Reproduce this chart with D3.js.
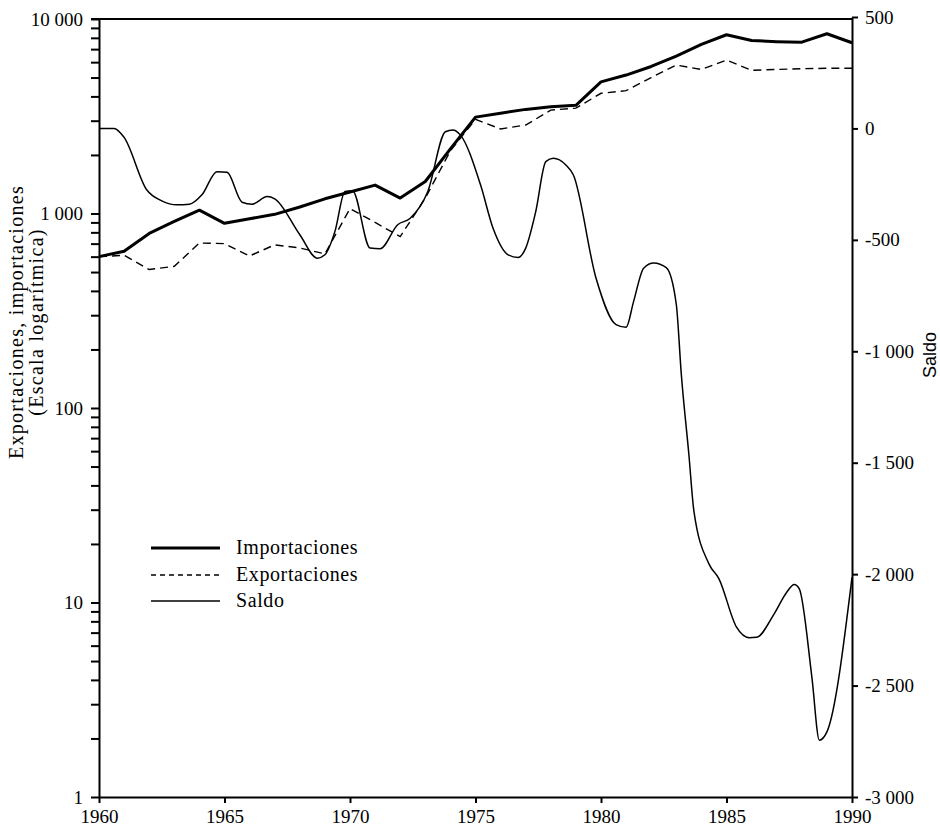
<!DOCTYPE html>
<html>
<head>
<meta charset="utf-8">
<script src="https://cdn.jsdelivr.net/npm/d3@7"></script>
<style>
  body { margin: 0; background: #fff; }
  svg { display: block; }
  .axis text { font-family: "Liberation Serif", serif; font-size: 19px; fill: #000; }
  .axis path, .axis line { stroke: #000; stroke-width: 2; }
</style>
</head>
<body>
<div id="chart"></div>
<script>

// Años (eje X)
var years = [1960, 1961, 1962, 1963, 1964, 1965, 1966, 1967, 1968, 1969,
             1970, 1971, 1972, 1973, 1974, 1975, 1976, 1977, 1978, 1979,
             1980, 1981, 1982, 1983, 1984, 1985, 1986, 1987, 1988, 1989, 1990];

var importaciones = [600, 640, 790, 910, 1040, 890, 940, 990, 1080, 1190,
                     1290, 1400, 1200, 1460, 2150, 3130, 3280, 3430, 3540, 3600,
                     4750, 5150, 5700, 6450, 7400, 8300, 7750, 7650, 7600, 8400, 7550];

var exportaciones = [600, 610, 515, 535, 705, 700, 605, 690, 665, 620,
                     1060, 900, 760, 1200, 2100, 3050, 2720, 2850, 3400, 3480,
                     4150, 4280, 5000, 5800, 5500, 6150, 5450, 5500, 5550, 5580, 5580];

// Saldo: puntos (año, valor)
var saldoYears = [1960.0, 1960.6, 1961.0, 1961.9, 1962.5, 1963.1, 1963.6, 1964.1, 1964.7, 1965.1,
                  1965.7, 1966.1, 1966.7, 1967.0, 1968.0, 1968.7, 1969.0, 1969.4, 1969.8, 1970.1,
                  1970.8, 1971.2, 1971.9, 1972.4, 1973.1, 1973.8, 1974.1, 1974.4, 1975.2, 1975.7,
                  1976.3, 1976.7, 1977.0, 1977.4, 1977.8, 1978.1, 1978.6, 1978.9, 1979.8, 1980.6,
                  1981.0, 1981.3, 1981.7, 1982.1, 1982.6, 1983.0, 1983.2, 1983.5, 1983.7, 1984.3,
                  1984.7, 1985.4, 1985.9, 1986.2, 1986.9, 1987.4, 1987.7, 1987.9, 1988.4, 1988.7,
                  1989.0, 1990.0];
var saldoValues = [0, 0, -40, -275, -325, -343, -340, -298, -194, -197,
                   -331, -340, -306, -316, -477, -582, -567, -462, -283, -280,
                   -537, -540, -432, -403, -283, -15, -7, -30, -253, -448,
                   -567, -579, -537, -373, -149, -134, -164, -209, -671, -880,
                   -892, -776, -627, -604, -625, -790, -1104, -1462, -1716, -1954,
                   -2021, -2238, -2285, -2283, -2178, -2081, -2047, -2066, -2461, -2745,
                   -2708, -2014];

var logTicks = [1, 10, 100, 1000, 10000];
var saldoTicks = [500, 0, -500, -1000, -1500, -2000, -2500, -3000];
var yearTicks = [1960, 1965, 1970, 1975, 1980, 1985, 1990];

var legendItems = [
    {label: "Importaciones", width: 3, dash: null},
    {label: "Exportaciones", width: 1.4, dash: "5,4"},
    {label: "Saldo", width: 1.5, dash: null}
];

var chart = {
    width: 940,
    height: 827,
    left: 99,
    right: 852,
    top: 19,
    bottom: 797
};

var svg = d3.select("#chart").append("svg")
    .attr("width", chart.width)
    .attr("height", chart.height);

var x = d3.scaleLinear().domain([1960, 1990]).range([chart.left, chart.right]);
var yLog = d3.scaleLog().domain([1, 10000]).range([chart.bottom, chart.top]);
var ySaldo = d3.scaleLinear().domain([-3000, 500]).range([chart.bottom, 17]);

function spaced(d) {
    var s = d3.format(",")(Math.abs(d)).replace(",", " ");
    return (d < 0 ? "-" : "") + s;
}

function serifAxis(g) {
    g.attr("font-family", "'Liberation Serif', serif").attr("font-size", 19);
}

// minor ticks del eje log
var minor = [];
logTicks.slice(0, -1).forEach(function(dec) {
    for (var k = 2; k < 10; k++) minor.push(dec * k);
});

svg.append("g")
    .attr("class", "axis")
    .attr("transform", "translate(" + chart.left + ",0)")
    .call(d3.axisLeft(yLog).tickValues(minor).tickSize(8).tickSizeOuter(0).tickFormat(""))
    .select(".domain").remove();

svg.append("g")
    .attr("class", "axis")
    .attr("transform", "translate(" + chart.left + ",0)")
    .call(d3.axisLeft(yLog).tickValues(logTicks).tickSize(8).tickSizeOuter(0).tickPadding(8).tickFormat(spaced))
    .call(serifAxis);

svg.append("g")
    .attr("class", "axis")
    .attr("transform", "translate(" + chart.right + ",0)")
    .call(d3.axisRight(ySaldo).tickValues(saldoTicks).tickSize(6).tickSizeOuter(0).tickPadding(7).tickFormat(spaced))
    .call(serifAxis);

svg.append("g")
    .attr("class", "axis")
    .attr("transform", "translate(0," + chart.bottom + ")")
    .call(d3.axisBottom(x).tickValues(yearTicks).tickSize(6).tickSizeOuter(0).tickPadding(7).tickFormat(d3.format("d")))
    .call(serifAxis);

// marco superior
svg.append("line")
    .attr("x1", chart.left - 8).attr("x2", chart.right)
    .attr("y1", chart.top).attr("y2", chart.top)
    .attr("stroke", "#000").attr("stroke-width", 2);

// series
var importLine = d3.line()
    .x(function(d, i) { return x(years[i]); })
    .y(function(d) { return yLog(d); });

svg.append("path")
    .datum(importaciones)
    .attr("fill", "none")
    .attr("stroke", "#000")
    .attr("stroke-width", 3)
    .attr("stroke-linejoin", "round")
    .attr("d", importLine);

svg.append("path")
    .datum(exportaciones)
    .attr("fill", "none")
    .attr("stroke", "#000")
    .attr("stroke-width", 1.4)
    .attr("stroke-dasharray", "8,5")
    .attr("d", importLine);

var saldoLine = d3.line()
    .curve(d3.curveMonotoneX)
    .x(function(d, i) { return x(saldoYears[i]); })
    .y(function(d) { return ySaldo(d); });

svg.append("path")
    .datum(saldoValues)
    .attr("fill", "none")
    .attr("stroke", "#000")
    .attr("stroke-width", 1.5)
    .attr("d", saldoLine);

// leyenda
var legendY = [548, 575, 601];
var legend = svg.append("g").selectAll("g")
    .data(legendItems)
    .enter().append("g")
        .attr("transform", function(d, i) { return "translate(151," + legendY[i] + ")"; });

legend.append("line")
    .attr("x1", 0).attr("x2", 69)
    .attr("stroke", "#000")
    .attr("stroke-width", function(d) { return d.width; })
    .attr("stroke-dasharray", function(d) { return d.dash; });

legend.append("text")
    .attr("x", 85)
    .attr("y", 6)
    .style("font-family", "'Liberation Serif', serif")
    .style("font-size", "20px")
    .style("letter-spacing", "0.6px")
    .text(function(d) { return d.label; });

// títulos de ejes
var ytitle = svg.append("text")
    .attr("transform", "translate(23,322) rotate(-90)")
    .attr("text-anchor", "middle")
    .style("font-family", "'Liberation Serif', serif")
    .style("font-size", "20px")
    .style("letter-spacing", "1.3px");
ytitle.append("tspan").attr("x", 0).attr("y", 0).text("Exportaciones, importaciones");
ytitle.append("tspan").attr("x", 0).attr("y", 20).text("(Escala logarítmica)");

svg.append("text")
    .attr("transform", "translate(936,355) rotate(-90)")
    .attr("text-anchor", "middle")
    .style("font-family", "'Liberation Sans', sans-serif")
    .style("font-size", "18px")
    .text("Saldo");

</script>
</body>
</html>
